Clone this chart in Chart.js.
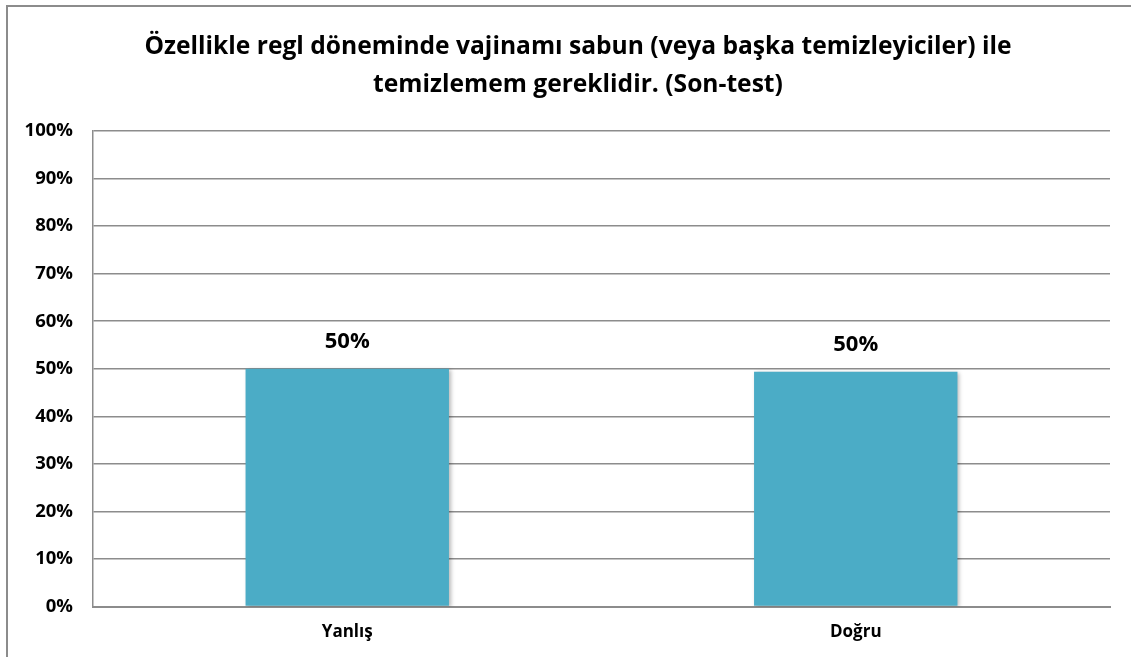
<!DOCTYPE html>
<html>
<head>
<meta charset="utf-8">
<script src="https://cdn.jsdelivr.net/npm/chart.js@4"></script>
<style>
  html, body { margin: 0; padding: 0; background: #fff; }
  #wrap { position: relative; width: 1131px; height: 657px; overflow: hidden; }
  #frame { position: absolute; left: 6px; top: 5px; width: 1300px; height: 800px; border: 2px solid #8c8c8c; box-sizing: border-box; }
  #myChart { position: absolute; left: 0; top: 0; }
</style>
</head>
<body>
<div id="wrap">
  <div id="frame"></div>
  <canvas id="myChart" width="1131" height="657"></canvas>
</div>
<script>
// data
const categories = ['Yanlış', 'Doğru'];
const values = [50.0, 49.4];
const valueLabels = ['50%', '50%'];
const titleLines = ['Özellikle regl döneminde vajinamı sabun (veya başka temizleyiciler) ile', 'temizlemem gereklidir. (Son-test)'];

const fontName = "'Open Sans', 'Noto Sans', sans-serif";

// başlık (grafik alanına göre biraz sağa kaymış)
const titlePlugin = {
    id: 'titleText',
    afterDraw(chart) {
        const c = chart.ctx;
        c.save();
        c.font = 'bold 24.6px ' + fontName;
        c.fillStyle = '#000';
        c.textAlign = 'center';
        c.textBaseline = 'middle';
        titleLines.forEach((line, i) => {
            c.fillText(line, 578, 47 + i * 38);
        });
        c.restore();
    }
};

// etiketler çubukların üstünde
const valueLabelPlugin = {
    id: 'valueLabels',
    afterDatasetsDraw(chart) {
        const c = chart.ctx;
        const meta = chart.getDatasetMeta(0);
        c.save();
        c.font = 'bold 22px ' + fontName;
        c.fillStyle = '#000';
        c.textAlign = 'center';
        c.textBaseline = 'middle';
        meta.data.forEach((bar, i) => {
            c.fillText(valueLabels[i], bar.x, bar.y - 27);
        });
        c.restore();
    }
};

// hafif gölge
const shadowPlugin = {
    id: 'barShadow',
    beforeDatasetsDraw(chart) {
        const c = chart.ctx;
        c.save();
        c.shadowColor = 'rgba(0,0,0,0.28)';
        c.shadowBlur = 4;
        c.shadowOffsetX = 2;
        c.shadowOffsetY = 1;
    },
    afterDatasetsDraw(chart) {
        chart.ctx.restore();
    }
};

const ctx = document.getElementById('myChart').getContext('2d');
const myChart = new Chart(ctx, {
    type: 'bar',
    data: {
        labels: categories,
        datasets: [{
            data: values,
            backgroundColor: '#4bacc6',
            borderWidth: 0,
            categoryPercentage: 1.0,
            barPercentage: 0.4
        }]
    },
    options: {
        responsive: false,
        animation: false,
        layout: {
            padding: { left: 20, right: 21, top: 131, bottom: 0 }
        },
        plugins: {
            legend: { display: false },
            tooltip: { enabled: false },
            title: { display: false }
        },
        scales: {
            x: {
                grid: { display: false, drawTicks: false },
                border: { display: true, color: '#8c8c8c', width: 2 },
                ticks: {
                    color: '#000',
                    padding: 15,
                    font: { family: fontName, weight: 'bold', size: 17 }
                }
            },
            y: {
                min: 0,
                max: 100,
                afterFit(scale) { scale.width = 73; },
                grid: { color: '#8c8c8c', lineWidth: 1.5, drawTicks: false },
                border: { display: true, color: '#8c8c8c', width: 1.5 },
                ticks: {
                    stepSize: 10,
                    color: '#000',
                    padding: 20,
                    font: { family: fontName, weight: 'bold', size: 18.5 },
                    callback: (v) => v + '%'
                }
            }
        }
    },
    plugins: [shadowPlugin, valueLabelPlugin, titlePlugin]
});
</script>
</body>
</html>
